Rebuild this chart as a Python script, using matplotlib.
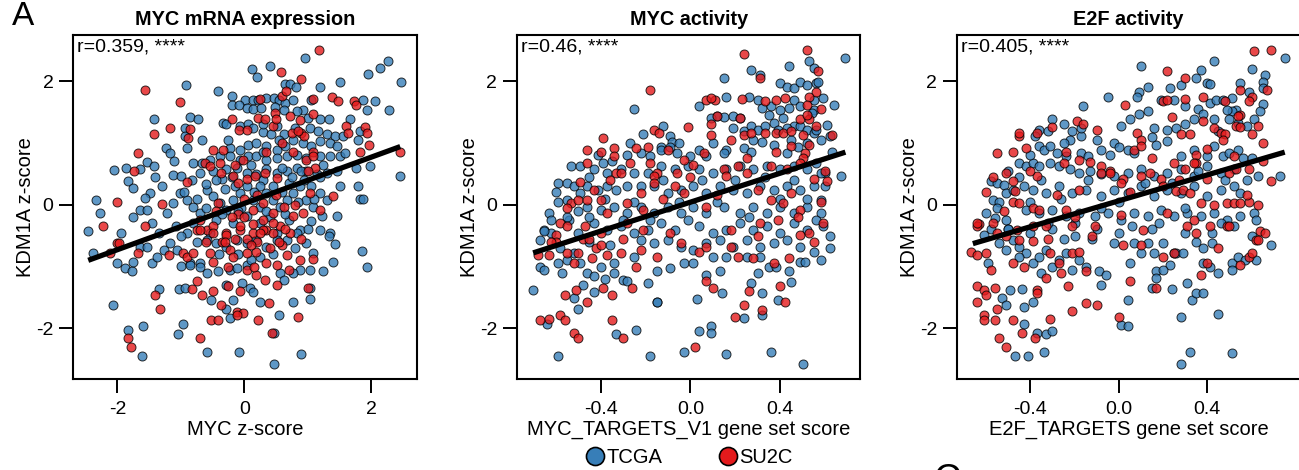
import numpy as np
import matplotlib
matplotlib.use("Agg")
import matplotlib.pyplot as plt
from matplotlib.lines import Line2D

plt.rcParams['font.family'] = ['Liberation Sans', 'DejaVu Sans']

# ---- data (x, KDM1A z-score) ----
mrna_tcga = [
    (0.96, 2.38), (2.26, 2.32), (2.14, 2.21), (1.95, 2.11), (0.40, 2.24), (0.13, 2.19), (0.20, 2.06),
    (2.48, 1.98), (1.51, 1.98), (1.19, 1.91), (0.64, 1.96), (0.72, 1.96), (0.81, 1.91), (-0.92, 1.93),
    (-0.41, 1.84), (-0.19, 1.76), (0.01, 1.69), (0.14, 1.69), (0.22, 1.70), (0.35, 1.73), (0.47, 1.72),
    (0.55, 1.70), (0.64, 1.64), (0.77, 1.70), (0.93, 1.54), (1.06, 1.70), (1.88, 1.69), (2.06, 1.68),
    (1.94, 1.54), (2.29, 1.54), (-0.19, 1.61), (-0.09, 1.61), (0.04, 1.57), (0.14, 1.55), (0.27, 1.57),
    (0.48, 1.58), (0.62, 1.54), (-1.43, 1.39), (-0.85, 1.42), (-0.73, 1.39), (0.83, 1.51), (1.19, 1.38),
    (1.33, 1.38), (1.67, 1.38), (-0.93, 1.24), (-0.93, 1.11), (-0.91, 0.92), (-0.67, 1.04), (-1.24, 0.91),
    (-1.17, 0.84), (-0.33, 1.32), (-0.28, 1.30), (-0.07, 1.27), (0.06, 1.30), (0.14, 1.24), (0.30, 1.17),
    (0.43, 1.14), (0.51, 1.27), (0.62, 1.14), (0.80, 1.24), (1.04, 1.24), (1.17, 1.19), (1.30, 1.14),
    (1.43, 1.11), (1.56, 1.11), (1.82, 1.19), (1.79, 1.05), (-0.23, 0.92), (-0.07, 0.89), (0.06, 0.97),
    (0.19, 1.00), (0.35, 0.95), (0.51, 0.89), (0.64, 0.95), (0.77, 1.05), (0.93, 1.00), (1.06, 0.95),
    (1.19, 1.03), (1.35, 1.00), (1.46, 0.95), (-1.54, 0.69), (-1.43, 0.62), (-1.65, 0.57), (-0.80, 0.68),
    (-0.67, 0.68), (-0.54, 0.73), (-0.38, 0.78), (-0.23, 0.78), (-0.07, 0.73), (0.06, 0.78), (0.19, 0.78),
    (0.35, 0.73), (0.51, 0.76), (0.67, 0.78), (0.83, 0.81), (0.98, 0.76), (1.19, 0.78), (1.35, 0.78),
    (1.51, 0.78), (1.59, 0.83), (1.76, 0.60), (1.98, 0.62), (2.46, 0.46), (-2.05, 0.56), (-1.87, 0.59),
    (-1.83, 0.39), (-1.75, 0.27), (-1.12, 0.48), (-0.99, 0.46), (-0.83, 0.40), (-0.70, 0.51), (-0.49, 0.54),
    (-0.28, 0.57), (-0.12, 0.59), (0.04, 0.51), (0.19, 0.49), (0.35, 0.57), (0.51, 0.51), (0.67, 0.54),
    (0.83, 0.59), (0.98, 0.54), (1.14, 0.49), (1.30, 0.51), (1.46, 0.54), (-2.33, 0.08), (-2.28, -0.14),
    (-2.46, -0.42), (-1.65, -0.08), (-1.54, -0.08), (-1.49, 0.19), (-1.57, 0.11), (-1.22, -0.14),
    (-1.12, 0.03), (-1.01, 0.19), (-0.91, 0.08), (-0.80, -0.03), (-0.70, -0.14), (-0.59, 0.24),
    (-0.49, 0.14), (-0.38, 0.03), (-0.28, -0.08), (-0.17, 0.08), (-0.07, 0.19), (0.04, 0.30), (0.14, 0.08),
    (0.25, -0.03), (0.35, 0.19), (0.46, 0.08), (0.56, -0.03), (0.67, 0.08), (0.77, 0.19), (0.88, 0.30),
    (0.98, 0.08), (1.09, -0.03), (1.19, 0.19), (1.30, 0.08), (1.80, 0.30), (1.82, 0.10), (1.88, 0.09),
    (1.51, 0.30), (1.46, -0.19), (-1.07, -0.35), (-0.91, -0.46), (-0.54, -0.46), (-0.17, -0.30),
    (0.04, -0.19), (0.25, -0.30), (0.51, -0.46), (0.88, -0.41), (1.06, -0.27), (1.22, -0.19), (1.35, -0.46),
    (-2.38, -0.78), (-2.01, -0.95), (-1.88, -1.03), (-1.77, -1.08), (-1.75, -0.92), (-1.65, -0.68),
    (-1.54, -0.68), (-1.46, -0.95), (-1.38, -0.84), (-1.27, -0.73), (-1.17, -0.62), (-1.06, -0.73),
    (-0.85, -0.95), (-0.70, -0.95), (-0.59, -0.57), (-0.44, -0.62), (-0.28, -0.68), (-0.12, -0.57),
    (0.04, -0.62), (0.19, -0.57), (0.35, -0.68), (0.51, -0.57), (0.67, -0.57), (0.83, -0.46), (0.98, -0.62),
    (1.09, -0.78), (1.19, -0.41), (1.33, -0.51), (1.43, -0.63), (1.85, -0.75), (1.93, -1.00), (1.40, -0.92),
    (1.25, -1.08), (1.04, -1.05), (0.88, -1.05), (0.77, -1.11), (-0.99, -0.99), (-0.86, -0.97),
    (-0.70, -1.00), (-0.59, -1.11), (-0.41, -1.08), (-0.23, -1.05), (-0.12, -1.03), (0.04, -0.97),
    (-1.34, -1.36), (-1.03, -1.36), (-0.94, -1.35), (-0.52, -1.54), (-0.28, -1.30), (-0.17, -1.54),
    (-0.04, -1.27), (0.09, -1.35), (0.14, -1.41), (0.25, -1.57), (0.56, -1.11), (0.62, -1.22), (0.77, -1.57),
    (1.03, -1.53), (1.03, -1.35), (-0.28, -1.68), (-2.07, -1.62), (-0.23, -1.83), (0.55, -1.78),
    (-0.97, -1.93), (-1.59, -1.96), (-1.84, -2.02), (-1.05, -2.09), (0.47, -2.07), (-1.61, -2.45),
    (-0.59, -2.39), (-0.08, -2.39), (0.90, -2.41), (0.47, -2.57), (-0.60, 0.33), (-0.35, 0.42),
    (-0.15, 0.30), (0.30, 0.40), (0.70, 0.35), (0.95, 0.40), (-0.45, -0.25), (-0.05, -0.05), (0.40, -0.20),
    (0.70, -0.25), (-0.80, -0.30), (-1.30, 0.30), (-1.35, -0.45), (-0.10, -0.80), (0.25, -0.85),
    (-0.45, 0.40), (-0.30, 0.25), (-0.20, 0.45), (0.10, 0.65), (0.25, 0.30), (0.45, 0.30), (0.60, 0.60),
    (0.75, 0.45), (0.90, 0.55), (1.05, 0.30), (1.20, 0.45), (-0.95, 0.20), (-0.75, 0.10), (-0.60, -0.05),
    (-0.35, -0.15), (-0.10, -0.10), (0.15, 0.20), (0.35, -0.10), (0.60, 0.20), (0.85, 0.05), (1.10, 0.10),
    (-1.00, -0.50), (-0.75, -0.60), (-0.40, -0.80), (0.10, -0.90), (0.45, -0.80), (0.80, -0.70),
    (1.00, -0.40), (-1.40, 0.45), (-1.10, 0.70), (-0.25, 1.05), (0.30, 1.30), (0.55, 1.05), (1.00, 1.40),
    (1.25, 0.65), (-1.75, -0.20), (-1.95, -0.45), (-1.45, -0.30), (0.65, -0.15), (0.30, 0.85),
]
mrna_su2c = [
    (1.18, 2.50), (0.58, 2.15), (0.89, 2.04), (-1.57, 1.85), (-1.01, 1.66), (0.25, 1.71), (0.60, 1.76),
    (0.66, 1.84), (1.09, 1.71), (1.39, 1.74), (1.48, 1.68), (1.73, 1.68), (1.77, 1.62), (0.48, 1.48),
    (0.72, 1.43), (0.88, 1.37), (1.09, 1.46), (-0.20, 1.38), (0.22, 1.41), (0.33, 1.38), (-1.17, 1.24),
    (-1.43, 1.15), (-0.85, 1.23), (-0.88, 1.08), (-0.08, 1.21), (0.04, 1.21), (0.45, 1.28), (0.50, 1.38),
    (0.75, 1.16), (0.90, 1.16), (0.94, 1.11), (1.61, 1.27), (1.90, 1.25), (1.93, 1.16), (1.64, 1.16),
    (-0.49, 0.89), (-0.33, 0.89), (1.82, 0.86), (1.97, 0.96), (2.46, 0.86), (-1.68, 0.83), (0.77, 0.86),
    (1.09, 0.86), (-0.62, 0.68), (-0.54, 0.62), (-0.38, 0.68), (-0.15, 0.65), (-0.02, 0.73), (0.98, 0.73),
    (1.09, 0.78), (1.11, 0.59), (-1.74, 0.55), (-0.91, 0.36), (-0.36, 0.51), (-0.17, 0.46), (0.04, 0.41),
    (0.17, 0.46), (0.33, 0.51), (0.51, 0.43), (-2.22, -0.34), (-2.01, 0.04), (-1.57, -0.34), (-1.30, 0.01),
    (-0.41, 0.03), (-0.70, -0.24), (-0.59, -0.41), (0.14, -0.08), (0.30, 0.03), (0.46, -0.14), (0.62, -0.03),
    (0.77, -0.19), (0.93, -0.14), (1.04, 0.19), (1.19, -0.08), (1.40, 0.14), (-0.75, -0.41), (-0.49, -0.35),
    (-0.28, -0.46), (-0.07, -0.41), (0.14, -0.46), (0.35, -0.41), (0.56, -0.35), (0.72, -0.46),
    (-2.01, -0.62), (-1.98, -0.62), (-2.12, -0.78), (-1.68, -0.78), (-1.18, -0.81), (-0.97, -0.78),
    (-0.91, -0.84), (-0.80, -0.78), (-0.54, -0.78), (-0.49, -0.92), (-0.23, -0.73), (-0.17, -0.84),
    (0.04, -0.78), (0.19, -0.76), (0.35, -0.95), (0.51, -0.97), (0.67, -0.81), (-0.70, -0.41),
    (-0.49, -0.46), (-0.28, -0.49), (-0.07, -0.35), (0.14, -0.32), (0.30, -0.41), (0.46, -0.46),
    (0.88, -0.89), (1.08, -0.88), (-0.75, -1.23), (-0.66, -1.46), (-0.49, -1.39), (-0.25, -1.32),
    (-0.07, -1.39), (0.04, -1.05), (0.19, -1.14), (0.33, -1.22), (0.51, -1.30), (-0.83, -1.36),
    (-1.40, -1.46), (-1.33, -1.68), (1.01, -1.35), (-0.36, -1.62), (-0.12, -1.73), (-0.02, -1.75),
    (0.39, -1.59), (-0.53, -1.86), (-0.41, -1.86), (0.22, -1.86), (0.85, -1.81), (-0.12, -1.78),
    (-1.84, -2.16), (-0.70, -2.15), (0.44, -2.07), (-1.78, -2.31), (-0.10, -0.15), (0.20, -0.60),
    (0.40, -0.70), (-0.35, -0.60), (0.05, -0.55), (0.60, -0.65), (-0.20, -0.20), (0.30, -0.25),
    (-0.30, -0.60), (-0.15, -0.55), (0.00, -0.20), (0.10, -0.65), (0.25, -0.45), (0.45, -0.30),
    (0.55, -0.60), (0.65, -0.40), (-0.45, -0.10), (-0.60, -0.60), (0.00, 0.10), (0.20, 0.15), (0.50, 0.15),
    (0.80, 0.00), (-0.10, 0.35), (0.35, 0.85), (0.60, 1.00), (0.85, 1.20), (1.00, 0.55), (-0.25, -1.00),
    (0.15, -1.00), (0.70, -1.05), (0.90, -0.55),
]

myc_tcga = [
    (0.69, 2.37), (0.53, 2.32), (0.55, 2.21), (0.44, 2.24), (0.27, 2.18), (0.31, 2.10), (0.15, 2.05),
    (-0.25, 1.55), (0.40, 1.97), (0.43, 1.90), (0.46, 1.89), (0.49, 1.98), (0.52, 1.94), (0.56, 1.97),
    (0.57, 1.98), (0.55, 1.70), (0.59, 1.73), (0.46, 1.70), (0.49, 1.59), (0.64, 1.62), (0.55, 1.54),
    (0.30, 1.70), (0.32, 1.56), (0.36, 1.59), (0.40, 1.54), (0.44, 1.56), (0.26, 1.75), (0.16, 1.75),
    (0.04, 1.60), (0.12, 1.43), (0.15, 1.42), (0.19, 1.43), (0.22, 1.40), (0.09, 1.40), (0.37, 1.32),
    (0.41, 1.40), (0.46, 1.27), (0.54, 1.48), (-0.12, 1.28), (-0.09, 1.11), (-0.08, 1.02), (-0.21, 1.15),
    (-0.13, 0.94), (-0.09, 0.94), (0.19, 1.24), (0.24, 1.19), (0.27, 1.27), (0.30, 1.21), (0.33, 1.27),
    (0.39, 1.21), (0.43, 1.24), (0.49, 1.27), (0.52, 1.21), (0.55, 1.16), (0.56, 1.21), (0.61, 1.29),
    (0.62, 1.11), (0.16, 0.89), (0.15, 0.84), (0.24, 0.92), (0.27, 0.86), (0.32, 1.02), (0.37, 0.97),
    (0.43, 0.84), (0.48, 0.94), (0.52, 1.00), (0.67, 0.47), (0.60, 0.51), (-0.41, 0.81), (-0.27, 0.99),
    (-0.22, 0.84), (-0.18, 0.78), (-0.13, 0.89), (-0.06, 0.84), (0.00, 0.78), (0.04, 0.89), (0.07, 0.78),
    (-0.53, 0.62), (-0.49, 0.62), (-0.39, 0.68), (-0.43, 0.57), (-0.37, 0.51), (-0.31, 0.57), (-0.25, 0.51),
    (-0.19, 0.51), (-0.13, 0.62), (-0.07, 0.57), (-0.01, 0.62), (0.04, 0.57), (0.10, 0.51), (0.16, 0.57),
    (0.22, 0.62), (0.28, 0.57), (0.34, 0.62), (0.40, 0.57), (0.46, 0.62), (0.52, 0.57), (0.58, 0.51),
    (0.56, 0.68), (-0.59, 0.35), (-0.55, 0.35), (-0.52, 0.30), (-0.49, 0.19), (-0.55, 0.08), (-0.59, 0.05),
    (-0.63, -0.14), (-0.65, -0.41), (-0.62, -0.46), (-0.46, 0.30), (-0.41, 0.24), (-0.37, 0.30),
    (-0.33, 0.24), (-0.28, 0.30), (-0.22, 0.30), (-0.16, 0.30), (-0.10, 0.19), (-0.04, 0.24), (0.01, 0.30),
    (0.07, 0.19), (0.13, 0.30), (0.19, 0.24), (0.25, 0.19), (0.31, 0.30), (0.37, 0.24), (0.43, 0.30),
    (0.49, 0.24), (0.55, 0.30), (0.58, 0.08), (-0.46, -0.03), (-0.40, -0.08), (-0.34, -0.03), (-0.28, -0.14),
    (-0.22, -0.03), (-0.16, -0.14), (-0.10, -0.03), (-0.04, -0.14), (0.01, -0.03), (0.07, -0.14),
    (0.15, -0.03), (0.22, -0.14), (0.28, -0.03), (0.34, -0.14), (0.40, -0.03), (0.46, -0.14), (0.52, -0.03),
    (0.58, -0.14), (-0.43, -0.30), (-0.37, -0.41), (-0.31, -0.35), (-0.25, -0.46), (-0.19, -0.41),
    (-0.13, -0.30), (-0.07, -0.41), (-0.01, -0.24), (0.04, -0.35), (0.10, -0.46), (0.16, -0.41),
    (0.22, -0.30), (0.28, -0.41), (0.34, -0.35), (0.40, -0.46), (0.46, -0.30), (0.52, -0.41), (0.56, -0.24),
    (0.59, -0.35), (-0.67, -0.57), (-0.65, -0.43), (-0.67, -1.00), (-0.65, -1.05), (-0.70, -1.38),
    (-0.59, -0.95), (-0.55, -0.89), (-0.52, -0.78), (-0.49, -0.95), (-0.46, -1.11), (-0.43, -1.16),
    (-0.40, -1.00), (-0.34, -0.95), (-0.30, -1.22), (-0.52, -1.51), (-0.50, -1.68), (-0.43, -1.41),
    (-0.34, -1.11), (-0.28, -1.24), (-0.19, -1.27), (-0.15, -1.57), (-0.64, -1.93), (-0.33, -2.09),
    (-0.24, -2.02), (-0.59, -2.45), (-0.18, -2.45), (-0.22, -0.57), (-0.16, -0.62), (-0.10, -0.57),
    (-0.04, -0.68), (0.01, -0.73), (0.07, -0.62), (0.13, -0.57), (0.19, -0.68), (0.25, -0.57), (0.31, -0.68),
    (0.37, -0.62), (0.43, -0.57), (0.49, -0.68), (0.55, -0.76), (-0.15, -1.08), (-0.09, -1.03),
    (-0.03, -0.95), (0.01, -0.95), (0.07, -1.14), (0.13, -1.08), (0.16, -0.84), (0.25, -0.84), (0.31, -0.84),
    (0.35, -1.00), (0.38, -1.00), (0.44, -1.08), (0.49, -0.92), (0.51, -0.92), (-0.15, -1.57), (0.03, -1.53),
    (0.14, -1.43), (0.27, -1.27), (0.32, -1.43), (0.39, -1.54), (0.24, -1.83), (0.32, -1.78), (0.04, -2.05),
    (0.09, -1.96), (0.09, -2.07), (-0.03, -2.39), (0.16, -2.41), (0.36, -2.39), (0.50, -2.57),
    (-0.58, -0.70), (-0.45, -0.60), (-0.36, -0.65), (-0.54, -0.25), (-0.50, -0.10),
    (-0.55, -0.20), (-0.50, -0.45), (-0.45, -0.20), (-0.38, 0.10), (-0.30, -0.25), (-0.25, 0.05),
    (-0.18, -0.25), (-0.12, 0.40), (-0.05, 0.05), (0.05, 0.40), (0.12, 0.05), (0.20, 0.40), (0.26, -0.20),
    (0.33, 0.45), (0.40, 0.10), (0.46, 0.40), (0.52, 0.10), (0.60, 0.30), (0.62, -0.50), (0.63, 0.85),
    (0.58, 1.05), (0.45, 1.05), (0.35, 1.45), (0.28, 1.05), (0.10, 1.00), (-0.05, 1.00), (-0.28, 0.80),
    (-0.35, 0.70), (-0.45, 0.45), (-0.60, 0.20), (-0.62, -0.25), (-0.57, -1.10), (-0.48, -1.30),
    (-0.38, -1.20), (-0.25, -0.85), (0.10, -0.85), (0.30, -1.10), (0.45, -1.25), (0.58, -0.90), (0.62, -0.70),
]
myc_su2c = [
    (0.24, 2.44), (0.52, 2.50), (0.57, 2.16), (0.31, 2.05), (-0.18, 1.85), (0.56, 1.83), (0.53, 1.75),
    (0.38, 1.70), (0.42, 1.73), (0.33, 1.67), (0.52, 1.62), (0.23, 1.71), (0.07, 1.70), (0.11, 1.69),
    (0.09, 1.73), (0.12, 1.44), (0.09, 1.31), (0.22, 1.40), (0.49, 1.38), (0.53, 1.38), (-0.01, 1.25),
    (-0.16, 1.21), (-0.14, 1.16), (0.09, 1.13), (-0.10, 0.89), (0.18, 1.05), (0.24, 1.13), (0.27, 1.16),
    (0.33, 1.16), (0.38, 1.16), (0.41, 1.16), (0.45, 1.19), (0.50, 1.13), (0.56, 1.27), (0.63, 1.13),
    (0.53, 0.97), (0.51, 0.84), (0.50, 0.76), (0.61, 0.38), (0.60, 0.54), (-0.46, 0.89), (-0.40, 0.86),
    (-0.34, 0.92), (-0.24, 0.92), (-0.19, 0.94), (-0.39, 1.08), (-0.03, 0.73), (0.06, 0.84), (0.01, 0.65),
    (-0.46, 0.68), (-0.34, 0.78), (-0.27, 0.68), (-0.18, 0.68), (-0.15, 0.51), (-0.33, 0.51), (-0.16, 0.46),
    (-0.06, 0.51), (0.15, 0.57), (0.21, 0.62), (0.25, 0.51), (0.36, 0.62), (0.43, 0.57), (0.49, 0.68),
    (-0.49, 0.36), (-0.53, 0.03), (-0.58, -0.30), (-0.55, -0.35), (-0.50, 0.08), (-0.43, 0.24),
    (-0.40, 0.08), (-0.31, 0.51), (-0.22, 0.19), (-0.16, 0.35), (-0.07, 0.30), (-0.03, 0.19), (0.16, 0.46),
    (0.30, 0.24), (0.36, 0.08), (0.45, 0.19), (0.55, 0.41), (-0.46, 0.08), (-0.37, -0.14), (-0.28, 0.03),
    (-0.21, -0.08), (0.07, -0.03), (0.41, 0.03), (0.49, -0.08), (0.58, 0.05), (-0.47, -0.35), (-0.40, -0.46),
    (-0.21, -0.41), (-0.09, -0.46), (0.18, -0.41), (0.31, -0.30), (0.39, -0.24), (0.59, -0.30),
    (-0.68, -0.81), (-0.63, -0.81), (-0.60, -0.49), (-0.55, -0.78), (-0.50, -0.78), (-0.44, -0.86),
    (-0.37, -0.81), (-0.31, -0.78), (-0.24, -1.00), (-0.22, -0.73), (-0.56, -1.46), (-0.51, -1.38),
    (-0.46, -1.57), (-0.39, -1.35), (-0.35, -1.46), (-0.26, -1.35), (-0.67, -1.86), (-0.63, -1.85),
    (-0.58, -1.78), (-0.56, -1.86), (-0.52, -2.07), (-0.50, -2.16), (-0.35, -1.86), (-0.30, -2.16),
    (-0.15, -0.84), (-0.04, -0.62), (0.04, -0.76), (0.07, -0.68), (0.18, -0.68), (0.21, -0.84), (0.28, -0.86),
    (0.37, -0.95), (0.44, -0.86), (0.49, -0.49), (0.53, -0.46), (0.07, -1.23), (0.10, -1.35), (0.20, -1.81),
    (0.26, -1.39), (0.40, -1.31), (0.42, -1.58), (0.32, -1.70), (0.24, -1.62), (0.02, -2.31),
    (-0.60, -0.60), (-0.48, -0.55), (-0.42, -0.70), (-0.30, -0.55),
    (-0.55, -0.05), (-0.45, -0.55), (-0.36, 0.40), (-0.28, -0.30), (-0.12, 0.10), (0.00, 0.45), (0.12, 0.15),
    (0.25, 0.75), (0.38, 0.85), (0.45, 0.95), (0.52, 1.45), (0.58, 1.55), (0.30, -0.50), (0.48, -0.20),
    (0.55, -0.60), (-0.62, -0.60), (-0.52, -0.95), (-0.40, -0.65),
]

e2f_tcga = [
    (0.75, 2.38), (0.43, 2.32), (0.10, 2.24), (0.60, 2.20), (0.66, 2.10), (0.65, 1.99), (0.37, 2.18),
    (0.35, 2.05), (0.40, 1.97), (0.41, 1.96), (0.13, 1.91), (0.23, 1.89), (0.28, 1.93), (-0.05, 1.74),
    (0.09, 1.83), (0.08, 1.75), (-0.16, 1.59), (0.55, 1.97), (0.59, 1.83), (0.65, 1.89), (0.65, 1.63),
    (0.19, 1.70), (0.25, 1.70), (0.30, 1.59), (0.36, 1.55), (0.41, 1.65), (0.44, 1.70), (0.47, 1.70),
    (0.51, 1.72), (0.53, 1.54), (0.51, 1.51), (0.64, 1.51), (0.05, 1.38), (0.13, 1.52), (0.09, 1.46),
    (0.01, 1.27), (-0.02, 1.00), (0.00, 0.94), (0.04, 0.89), (0.07, 0.84), (0.16, 1.24), (0.22, 1.21),
    (0.26, 1.24), (0.34, 1.38), (0.38, 1.46), (0.43, 1.38), (0.49, 1.54), (0.50, 1.38), (0.54, 1.32),
    (0.58, 1.27), (0.61, 1.38), (0.17, 0.97), (0.22, 1.03), (0.28, 0.78), (0.34, 0.89), (0.40, 0.78),
    (0.43, 0.95), (0.47, 0.78), (0.50, 0.84), (0.54, 0.89), (0.56, 0.76), (0.63, 0.46), (0.73, 0.46),
    (-0.30, 1.38), (-0.25, 1.30), (-0.21, 1.19), (-0.17, 1.11), (-0.17, 1.24), (-0.22, 1.05), (-0.36, 1.21),
    (-0.32, 1.19), (-0.38, 1.11), (-0.36, 0.95), (-0.34, 0.89), (-0.31, 0.95), (-0.28, 0.84), (-0.24, 0.78),
    (-0.17, 0.84), (-0.14, 0.78), (-0.08, 0.89), (-0.04, 0.81), (-0.45, 0.67), (-0.42, 0.62), (-0.39, 0.67),
    (-0.36, 0.62), (-0.31, 0.67), (-0.27, 0.62), (-0.22, 0.57), (-0.18, 0.51), (-0.13, 0.54), (-0.08, 0.49),
    (-0.02, 0.46), (0.04, 0.51), (0.10, 0.57), (0.16, 0.46), (0.22, 0.51), (0.28, 0.57), (0.34, 0.46),
    (0.40, 0.62), (0.46, 0.51), (0.52, 0.57), (-0.58, 0.38), (-0.55, 0.35), (-0.52, 0.32), (-0.57, 0.08),
    (-0.54, 0.05), (-0.51, 0.19), (-0.48, 0.24), (-0.60, -0.14), (-0.56, -0.22), (-0.51, -0.24),
    (-0.43, 0.30), (-0.39, 0.24), (-0.33, 0.19), (-0.27, 0.30), (-0.21, 0.19), (-0.15, 0.24), (-0.08, 0.14),
    (-0.02, 0.24), (0.04, 0.19), (0.10, 0.30), (0.16, 0.14), (0.22, 0.24), (0.28, 0.19), (0.34, 0.30),
    (0.40, 0.14), (0.46, 0.24), (0.52, 0.30), (0.55, 0.19), (-0.42, -0.08), (-0.36, -0.14), (-0.30, -0.08),
    (-0.24, -0.19), (-0.18, -0.14), (-0.11, -0.19), (-0.05, -0.14), (0.01, -0.24), (0.07, -0.14),
    (0.13, -0.19), (0.19, -0.08), (0.25, -0.19), (0.31, -0.14), (0.37, -0.19), (0.43, -0.14), (0.49, -0.24),
    (0.55, -0.19), (0.61, -0.14), (0.62, -0.24), (-0.61, -0.49), (-0.59, -0.95), (-0.53, -1.51),
    (-0.51, -1.62), (-0.49, -1.38), (-0.44, -1.37), (-0.43, -1.66), (-0.43, -1.93), (-0.47, -2.45),
    (-0.41, -2.45), (-0.37, -2.08), (-0.33, -2.09), (-0.30, -2.05), (-0.34, -2.39), (-0.39, -1.57),
    (-0.54, -0.62), (-0.51, -0.73), (-0.48, -0.57), (-0.45, -0.68), (-0.42, -0.78), (-0.39, -0.95),
    (-0.36, -0.84), (-0.33, -0.73), (-0.30, -1.00), (-0.27, -0.89), (-0.24, -0.78), (-0.21, -1.05),
    (-0.18, -0.89), (-0.15, -1.00), (-0.09, -1.08), (-0.08, -1.30), (-0.06, -1.14), (-0.02, -0.62),
    (0.01, -1.95), (0.04, -1.96), (0.04, -1.54), (0.07, -0.62), (0.10, -0.78), (0.13, -0.62), (0.16, -0.78),
    (0.17, -1.08), (0.17, -1.19), (0.15, -1.35), (0.20, -0.62), (0.23, -0.97), (0.25, -0.78), (0.26, -0.78),
    (0.29, -0.78), (0.24, -1.37), (0.28, -1.81), (0.31, -1.27), (0.33, -1.54), (0.35, -1.43), (0.38, -1.43),
    (0.32, -2.38), (0.28, -2.57), (0.45, -1.77), (0.38, -0.95), (0.41, -1.00), (0.38, -0.70), (0.42, -0.62),
    (0.51, -0.95), (0.51, -1.05), (0.54, -0.84), (0.57, -0.89), (0.62, -0.89), (0.69, -0.65), (0.51, -2.40),
    (0.52, -0.35), (0.46, -0.30), (-0.50, -0.40), (-0.40, -0.45), (-0.30, -0.40), (-0.20, -0.50),
    (-0.10, -0.40), (0.00, -0.45), (0.15, -0.40), (0.30, -0.45),
    (-0.55, -0.05), (-0.50, -0.40), (-0.45, 0.45), (-0.40, 0.05), (-0.35, 0.40), (-0.32, -0.30),
    (-0.26, 0.10), (-0.20, -0.30), (-0.14, 0.40), (-0.08, -0.05), (0.00, 0.05), (0.06, -0.35), (0.12, 0.35),
    (0.18, -0.30), (0.24, 0.35), (0.30, -0.05), (0.36, 0.55), (0.42, -0.45), (0.48, 0.40), (0.58, 0.40),
    (0.60, 0.75), (0.45, 1.20), (0.30, 1.30), (0.15, 1.10), (-0.10, 1.05), (-0.25, 1.00), (-0.40, 0.80),
    (-0.50, 0.55), (-0.58, -0.40), (-0.45, -0.85), (-0.35, -1.10), (-0.25, -0.55), (-0.12, -0.55),
    (0.05, -0.95), (0.20, -1.05), (0.35, -0.60), (0.45, -1.10), (0.60, -0.50),
]
e2f_su2c = [
    (0.61, 2.49), (0.69, 2.50), (0.22, 2.16), (0.67, 1.85), (0.30, 2.05), (0.03, 1.62), (0.55, 1.85),
    (0.60, 1.74), (0.59, 1.67), (0.55, 1.45), (0.54, 1.43), (0.20, 1.68), (0.22, 1.70), (0.30, 1.71),
    (0.38, 1.74), (0.48, 1.68), (0.24, 1.42), (0.28, 1.14), (0.32, 1.14), (0.38, 1.35), (0.43, 1.24),
    (0.46, 1.16), (0.48, 1.14), (0.53, 1.27), (0.60, 1.15), (0.63, 1.27), (0.65, 0.99), (0.08, 1.16),
    (0.10, 1.05), (0.07, 0.89), (0.10, 0.95), (0.47, 1.05), (0.52, 0.78), (0.69, 0.38), (0.35, 0.81),
    (0.35, 0.68), (-0.55, 0.84), (-0.48, 0.86), (-0.45, 1.11), (-0.45, 1.16), (-0.42, 0.92), (-0.57, 0.45),
    (-0.63, -0.32), (-0.64, -0.35), (-0.37, 1.16), (-0.30, 1.25), (-0.19, 1.36), (-0.16, 1.31), (-0.10, 1.21),
    (-0.24, 0.86), (-0.18, 0.73), (-0.13, 0.69), (-0.08, 0.62), (-0.04, 0.54), (-0.51, 0.51), (-0.48, 0.38),
    (-0.37, 0.46), (-0.25, 0.68), (-0.08, 0.51), (-0.04, 0.51), (0.02, 0.41), (0.10, 0.46), (0.14, 0.51),
    (0.19, 0.41), (0.25, 0.68), (0.30, 0.57), (0.34, 0.68), (0.40, 0.41), (0.50, 0.51), (0.53, 0.57),
    (0.59, 0.57), (-0.48, 0.05), (-0.47, 0.22), (-0.45, 0.02), (-0.39, -0.05), (-0.36, -0.08), (-0.24, -0.08),
    (-0.18, 0.24), (0.01, 0.35), (0.20, 0.30), (0.26, 0.22), (0.29, 0.24), (0.32, 0.19), (0.37, 0.03),
    (0.43, 0.00), (0.49, 0.03), (0.52, 0.03), (0.55, 0.03), (0.59, 0.05), (0.63, 0.00), (-0.46, -0.41),
    (-0.39, -0.35), (-0.33, -0.35), (-0.21, -0.35), (-0.11, -0.35), (0.01, -0.16), (0.11, -0.41),
    (0.22, -0.14), (0.34, -0.24), (0.41, -0.35), (0.49, -0.35), (0.64, -0.43), (0.62, -0.57),
    (-0.64, -0.30), (-0.67, -0.77), (-0.64, -0.81), (-0.60, -0.78), (-0.57, -0.30), (-0.64, -1.32),
    (-0.61, -1.38), (-0.64, -1.57), (-0.56, -1.35), (-0.60, -1.46), (-0.61, -1.78), (-0.61, -1.86),
    (-0.56, -1.86), (-0.55, -1.68), (-0.48, -1.86), (-0.44, -2.07), (-0.54, -2.15), (-0.51, -2.31),
    (-0.38, -2.15), (-0.31, -1.85), (-0.37, -1.38), (-0.37, -1.43), (-0.43, -1.00), (-0.33, -1.19),
    (-0.26, -1.11), (-0.23, -1.32), (-0.21, -1.72), (-0.15, -1.59), (-0.10, -1.62), (0.00, -1.81),
    (0.05, -1.23), (0.10, -0.65), (0.17, -1.35), (-0.55, -0.46), (-0.51, -0.51), (-0.45, -0.57),
    (-0.39, -0.59), (-0.31, -0.78), (-0.27, -0.95), (-0.21, -0.78), (-0.18, -0.76), (-0.15, -1.08),
    (0.02, -0.65), (0.20, -0.84), (0.25, -0.78), (0.31, -0.35), (0.37, -1.14), (0.40, -0.95), (0.55, -0.97),
    (0.59, -0.84), (0.60, -0.78), (0.63, -0.57), (0.66, -0.46), (0.50, -0.35),
    (-0.60, 0.20), (-0.52, -0.10), (-0.40, 0.55), (-0.32, -0.55), (-0.28, 0.15), (-0.12, -0.50),
    (0.05, 0.20), (0.15, 0.75), (0.27, 0.40), (0.40, 0.90), (0.55, 1.25), (0.58, 0.15), (0.65, 0.70),
    (0.35, -0.45), (0.45, -0.70), (-0.20, -0.20), (-0.48, -0.95), (-0.58, -1.05),
]

mrna_fit_x, mrna_fit_y = [-2.46, 2.46], [-0.90, 0.94]
myc_fit_x, myc_fit_y = [-0.70, 0.69], [-0.78, 0.85]
e2f_fit_x, e2f_fit_y = [-0.66, 0.75], [-0.63, 0.85]

titles = ["MYC mRNA expression", "MYC activity", "E2F activity"]
xlabels = ["MYC z-score", "MYC_TARGETS_V1 gene set score", "E2F_TARGETS gene set score"]
r_labels = ["r=0.359, ****", "r=0.46, ****", "r=0.405, ****"]
xticks = [[-2, 0, 2], [-0.4, 0.0, 0.4], [-0.4, 0.0, 0.4]]
xticklabels = [["-2", "0", "2"], ["-0.4", "0.0", "0.4"], ["-0.4", "0.0", "0.4"]]
yticks = [-2, 0, 2]
xlims = [(-2.70, 2.72), (-0.773, 0.757), (-0.733, 0.821)]
ylim = (-2.82, 2.745)

blue = "#377EB8"
red = "#E41A1C"

fig = plt.figure(figsize=(12.99, 4.70), dpi=100)
lefts = [0.0562, 0.3978, 0.7365]
panels = [(mrna_tcga, mrna_su2c, mrna_fit_x, mrna_fit_y),
          (myc_tcga, myc_su2c, myc_fit_x, myc_fit_y),
          (e2f_tcga, e2f_su2c, e2f_fit_x, e2f_fit_y)]

for i, (tcga, su2c, fx, fy) in enumerate(panels):
    ax = fig.add_axes([lefts[i], 0.1936, 0.2646, 0.7319])
    t = np.array(tcga)
    s = np.array(su2c)
    ax.scatter(t[:, 0], t[:, 1], s=42, c=blue, alpha=0.8, edgecolors="black", linewidths=0.7, zorder=2)
    ax.scatter(s[:, 0], s[:, 1], s=42, c=red, alpha=0.8, edgecolors="black", linewidths=0.7, zorder=2)
    ax.plot(fx, fy, color="black", lw=3.8, solid_capstyle="butt", zorder=3)
    ax.set_xlim(*xlims[i])
    ax.set_ylim(*ylim)
    ax.set_xticks(xticks[i])
    ax.set_xticklabels(xticklabels[i])
    ax.set_yticks(yticks)
    ax.set_yticklabels(["-2", "0", "2"])
    ax.tick_params(direction="out", length=10, width=1.4, labelsize=14, pad=4)
    ax.tick_params(axis="x", pad=6)
    for sp in ax.spines.values():
        sp.set_linewidth(1.5)
    ax.set_title(titles[i], fontsize=14.3, fontweight="bold", pad=7)
    ax.set_xlabel(xlabels[i], fontsize=14.5, labelpad=1)
    ax.set_ylabel("KDM1A z-score", fontsize=14.5, labelpad=1)
    ax.text(0.012, 0.99, r_labels[i], transform=ax.transAxes, ha="left", va="top", fontsize=14)

handles = [Line2D([], [], marker="o", ls="", markersize=13, markerfacecolor=blue, markeredgecolor="black", markeredgewidth=1.2),
           Line2D([], [], marker="o", ls="", markersize=13, markerfacecolor=red, markeredgecolor="black", markeredgewidth=1.2)]
fig.legend(handles, ["TCGA", "SU2C"], loc="center", bbox_to_anchor=(0.5305, 0.027), ncol=2, frameon=False,
           fontsize=14.5, handlelength=0.9, handletextpad=0.1, columnspacing=2.8, borderaxespad=0)

fig.text(0.009, 0.947, "A", fontsize=24, ha="left", va="baseline")
fig.text(0.718, -0.045, "C", fontsize=27, ha="left", va="baseline")

fig.savefig("out.png", dpi=100)
